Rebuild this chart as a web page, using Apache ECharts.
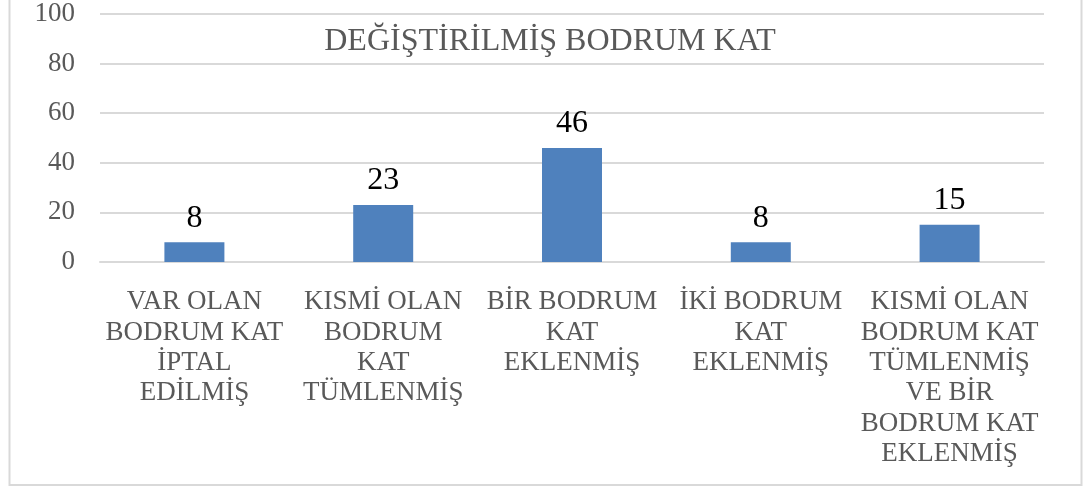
<!DOCTYPE html>
<html>
<head>
<meta charset="utf-8">
<script src="https://cdn.jsdelivr.net/npm/echarts@6/dist/echarts.min.js"></script>
<style>
  html, body { margin: 0; padding: 0; background: #fff; }
  #main { width: 1084px; height: 490px; }
</style>
</head>
<body>
<div id="main"></div>
<script>
var categories = [
  "VAR OLAN\nBODRUM KAT\nİPTAL\nEDİLMİŞ",
  "KISMİ OLAN\nBODRUM\nKAT\nTÜMLENMİŞ",
  "BİR BODRUM\nKAT\nEKLENMİŞ",
  "İKİ BODRUM\nKAT\nEKLENMİŞ",
  "KISMİ OLAN\nBODRUM KAT\nTÜMLENMİŞ\nVE BİR\nBODRUM KAT\nEKLENMİŞ"
];
var values = [8, 23, 46, 8, 15];

var font = "'Liberation Serif', 'Times New Roman', serif";
var chart = echarts.init(document.getElementById("main"), null, { renderer: "canvas" });
var option = {
  animation: false,
  title: {
    text: "DEĞİŞTİRİLMİŞ BODRUM KAT",
    left: 545,
    top: 21,
    textAlign: "center",
    textStyle: { fontFamily: font, fontSize: 32, fontWeight: "normal", color: "#595959" }
  },
  graphic: [{
    type: "rect",
    shape: { x: 9.5, y: -2, width: 1072, height: 487 },
    style: { fill: null, stroke: "#D9D9D9", lineWidth: 2 },
    silent: true
  }],
  grid: { left: 100, right: 40, top: 14, bottom: 228 },
  xAxis: {
    type: "category",
    data: categories,
    axisTick: { show: false },
    axisLine: { lineStyle: { color: "#D9D9D9", width: 2 } },
    axisLabel: {
      interval: 0,
      fontFamily: font,
      fontSize: 27,
      color: "#595959",
      lineHeight: 30.4,
      margin: 25
    }
  },
  yAxis: {
    type: "value",
    min: 0,
    max: 100,
    interval: 20,
    axisLine: { show: false },
    axisTick: { show: false },
    splitLine: { lineStyle: { color: "#D9D9D9", width: 2 } },
    axisLabel: { fontFamily: font, fontSize: 27, color: "#595959", margin: 25 }
  },
  series: [{
    type: "bar",
    data: values,
    barWidth: 60,
    itemStyle: { color: "#4F81BD" },
    label: {
      show: true,
      position: "top",
      distance: 8,
      fontFamily: font,
      fontSize: 32,
      color: "#000"
    }
  }]
};
chart.setOption(option);
</script>
</body>
</html>
